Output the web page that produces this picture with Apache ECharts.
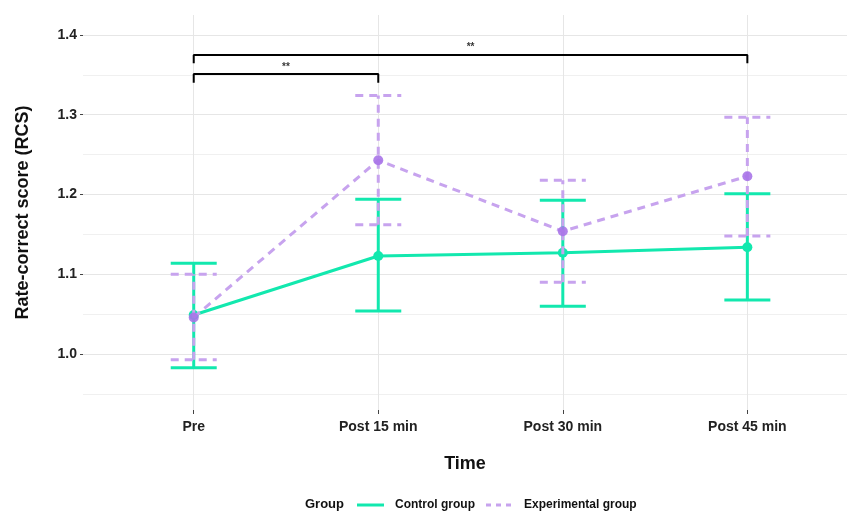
<!DOCTYPE html>
<html>
<head>
<meta charset="utf-8">
<script src="https://cdn.jsdelivr.net/npm/echarts@6/dist/echarts.min.js"></script>
<style>html,body{margin:0;padding:0;background:#fff;}#c{width:847px;height:511px;}</style>
</head>
<body>
<div id="c"></div>
<script>
// ---- data ----
const categories = ['Pre', 'Post 15 min', 'Post 30 min', 'Post 45 min'];
const controlMean = [1.049, 1.123, 1.127, 1.134];
const controlLow  = [0.983, 1.054, 1.060, 1.068];
const controlHigh = [1.114, 1.194, 1.193, 1.201];
const expMean = [1.046, 1.243, 1.154, 1.223];
const expLow  = [0.993, 1.162, 1.090, 1.148];
const expHigh = [1.100, 1.324, 1.218, 1.297];
const yTicks = [1.0, 1.1, 1.2, 1.3, 1.4];
const yMinor = [0.95, 1.05, 1.15, 1.25, 1.35];
const bracketLong  = [[0, 1.3645], [0, 1.375], [3, 1.375], [3, 1.3645]];
const bracketShort = [[0, 1.340], [0, 1.351], [1, 1.351], [1, 1.340]];
const stars = [[1.5, 1.384], [0.5, 1.359]];

const GREEN = '#12e8ae';
const PURPLE = '#c7a3ee';
const PURPLE_PT = '#a874e8';
const FONT = '"Liberation Sans", Arial, sans-serif';

const idx = categories.map((c, i) => i);
const toPts = arr => arr.map((v, i) => [i, v]);
const toBars = (lo, hi) => lo.map((v, i) => [i, v, hi[i]]);

function errRender(dashed, color) {
  return function (params, api) {
    const x = api.value(0);
    const p1 = api.coord([x, api.value(1)]);
    const p2 = api.coord([x, api.value(2)]);
    const hw = 23;
    const mk = () => ({ stroke: color, lineWidth: 3, lineDash: dashed ? [8, 6] : null, fill: null });
    return {
      type: 'group',
      children: [
        { type: 'line', shape: { x1: p1[0], y1: p1[1], x2: p2[0], y2: p2[1] }, style: mk(), silent: true },
        { type: 'line', shape: { x1: p1[0] - hw, y1: p1[1], x2: p1[0] + hw, y2: p1[1] }, style: mk(), silent: true },
        { type: 'line', shape: { x1: p2[0] - hw, y1: p2[1], x2: p2[0] + hw, y2: p2[1] }, style: mk(), silent: true }
      ]
    };
  };
}

const gridLineMajor = { color: '#e6e6e6', width: 1, type: 'solid' };
const gridLineMinor = { color: '#f0f0f0', width: 1, type: 'solid' };

const chart = echarts.init(document.getElementById('c'), null, { renderer: 'canvas' });
chart.setOption({
  animation: false,
  backgroundColor: '#ffffff',
  textStyle: { fontFamily: FONT },
  grid: { left: 83, right: 0, top: 15, bottom: 101, containLabel: false },
  xAxis: {
    type: 'value', min: -0.6, max: 3.54,
    name: 'Time', nameLocation: 'middle', nameGap: 45,
    nameTextStyle: { fontSize: 18, fontWeight: 'bold', color: '#111', fontFamily: FONT },
    axisLine: { show: false, onZero: false },
    splitLine: { show: false },
    axisTick: { show: true, customValues: idx, length: 4, lineStyle: { color: '#444' } },
    axisLabel: {
      customValues: idx, margin: 10,
      formatter: v => categories[Math.round(v)] || '',
      fontSize: 14, fontWeight: 'bold', color: '#222', fontFamily: FONT
    }
  },
  yAxis: {
    type: 'value', min: 0.93, max: 1.425,
    name: 'Rate-correct score (RCS)', nameLocation: 'middle', nameGap: 51, nameRotate: 90,
    nameTextStyle: { fontSize: 18, fontWeight: 'bold', color: '#111', fontFamily: FONT },
    axisLine: { show: false, onZero: false },
    splitLine: { show: false },
    axisTick: { show: true, customValues: yTicks, length: 3, lineStyle: { color: '#444' } },
    axisLabel: {
      customValues: yTicks, margin: 6,
      formatter: v => v.toFixed(1),
      fontSize: 14, fontWeight: 'bold', color: '#222', fontFamily: FONT
    }
  },
  graphic: [
    { type: 'text', left: 305, top: 498, style: { text: 'Group', font: 'bold 13px ' + FONT, fill: '#111' } },
    { type: 'line', shape: { x1: 357, y1: 505, x2: 384, y2: 505 }, style: { stroke: GREEN, lineWidth: 3 } },
    { type: 'text', left: 395, top: 499, style: { text: 'Control group', font: 'bold 12px ' + FONT, fill: '#111' } },
    { type: 'line', shape: { x1: 486, y1: 505, x2: 511, y2: 505 }, style: { stroke: PURPLE, lineWidth: 3, lineDash: [5, 5] } },
    { type: 'text', left: 524, top: 499, style: { text: 'Experimental group', font: 'bold 12px ' + FONT, fill: '#111' } }
  ],
  series: [
    {
      type: 'line', data: [], silent: true, z: 0,
      markLine: {
        z: 0, zlevel: 0,
        silent: true, symbol: 'none', label: { show: false }, animation: false,
        data: yMinor.map(v => ({ yAxis: v, lineStyle: gridLineMinor }))
          .concat(yTicks.map(v => ({ yAxis: v, lineStyle: gridLineMajor })))
          .concat(idx.map(v => ({ xAxis: v, lineStyle: gridLineMajor })))
      }
    },
    {
      name: 'Control group', type: 'custom', z: 10,
      renderItem: errRender(false, GREEN),
      data: toBars(controlLow, controlHigh),
      encode: { x: 0, y: [1, 2] }
    },
    {
      name: 'Control group', type: 'line', z: 11,
      data: toPts(controlMean),
      symbol: 'circle', symbolSize: 10,
      lineStyle: { color: GREEN, width: 3 },
      itemStyle: { color: GREEN }
    },
    {
      name: 'Experimental group', type: 'custom', z: 12,
      renderItem: errRender(true, PURPLE),
      data: toBars(expLow, expHigh),
      encode: { x: 0, y: [1, 2] },
      itemStyle: { opacity: 0.85 }
    },
    {
      name: 'Experimental group', type: 'line', z: 13,
      data: toPts(expMean),
      symbol: 'circle', symbolSize: 10,
      lineStyle: { color: PURPLE, width: 3, type: [8, 6] },
      itemStyle: { color: PURPLE_PT, opacity: 0.9 }
    },
    {
      type: 'line', data: bracketLong, symbol: 'none', silent: true, z: 14,
      lineStyle: { color: '#000', width: 2 }
    },
    {
      type: 'line', data: bracketShort, symbol: 'none', silent: true, z: 14,
      lineStyle: { color: '#000', width: 2 }
    },
    {
      type: 'scatter', data: stars, symbolSize: 0, silent: true, z: 14,
      label: { show: true, position: 'inside', formatter: '**', fontSize: 10, fontWeight: 'bold', color: '#000', fontFamily: FONT }
    }
  ]
});
</script>
</body>
</html>
